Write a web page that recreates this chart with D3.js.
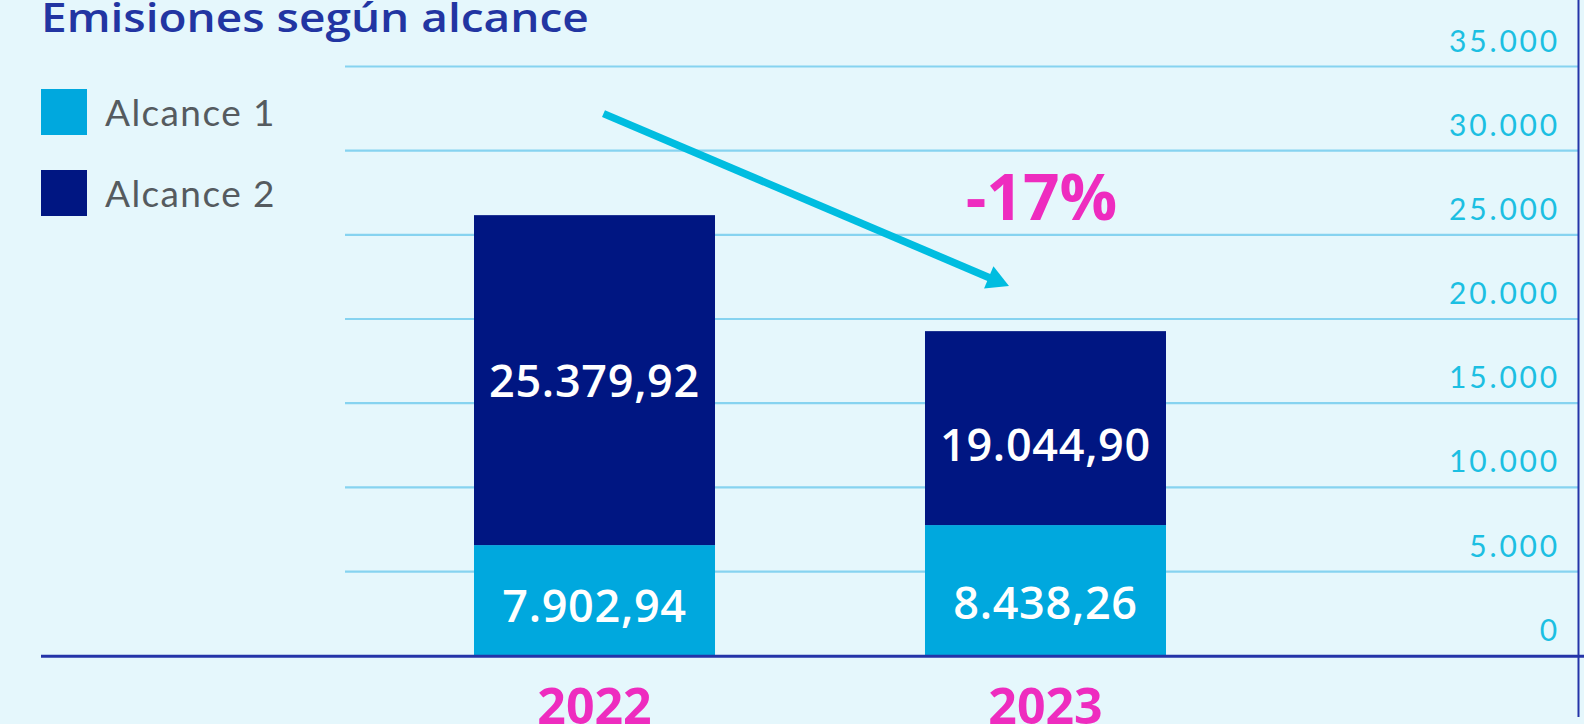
<!DOCTYPE html>
<html><head><meta charset="utf-8">
<script src="https://cdn.jsdelivr.net/npm/d3@7/dist/d3.min.js"></script>
<style>
html,body{margin:0;padding:0;background:#e5f7fc;overflow:hidden;}
svg{display:block;}
</style></head>
<body>
<svg id="c" width="1584" height="724"></svg>
<script>
// ---- data ----
const years = ["2022", "2023"];
const series = ["Alcance 1", "Alcance 2"];
// segment heights as drawn in the picture (t CO2e)
const alcance1 = [6570, 7760];
const alcance2 = [19600, 11520];
// value labels printed on the bars
const alcance1Labels = ["7.902,94", "8.438,26"];
const alcance2Labels = ["25.379,92", "19.044,90"];
const yTicks = [0, 5000, 10000, 15000, 20000, 25000, 30000, 35000];
const changeLabel = "-17%";
const title = "Emisiones según alcance";

const colors = {"Alcance 1": "#00a8de", "Alcance 2": "#001682"};

const W = 1584, H = 724;
const svg = d3.select("#c");
svg.append("rect").attr("width", W).attr("height", H).attr("fill", "#e5f7fc");

const y = d3.scaleLinear().domain([0, 35000]).range([655.7, 66.5]);
const x = d3.scaleBand().domain(years).range([474, 1166]).paddingInner(0.4656).paddingOuter(0);
const bw = x.bandwidth();

const fmt = v => d3.format(",")(v).replace(/,/g, ".");

// gridlines
svg.append("g").selectAll("line").data(yTicks.filter(d => d > 0)).join("line")
  .attr("x1", 345).attr("x2", 1578)
  .attr("y1", d => y(d)).attr("y2", d => y(d))
  .attr("stroke", "#86d3f0").attr("stroke-width", 2.2);

// y tick labels (right side)
svg.append("g").selectAll("text").data(yTicks).join("text")
  .attr("x", 1560).attr("y", d => y(d) - 15)
  .attr("text-anchor", "end")
  .attr("font-family", "Lato").attr("font-weight", 400)
  .attr("font-size", 30).attr("letter-spacing", 2.8)
  .attr("fill", "#1cbfe2")
  .text(d => fmt(d));

// stacked data
const rows = years.map((yr, i) => ({year: yr, "Alcance 1": alcance1[i], "Alcance 2": alcance2[i]}));
const stack = d3.stack().keys(series)(rows);

svg.append("g").selectAll("g").data(stack).join("g")
  .attr("fill", d => colors[d.key])
  .selectAll("rect").data(d => d).join("rect")
  .attr("x", d => x(d.data.year))
  .attr("width", bw)
  .attr("y", d => y(d[1]))
  .attr("height", d => y(d[0]) - y(d[1]));

// bar value labels
const labelSets = [alcance1Labels, alcance2Labels];
const dyAdj = [[5, 12], [1, 17]];
stack.forEach((s, si) => {
  svg.append("g").selectAll("text").data(s).join("text")
    .attr("x", (d, i) => x(d.data.year) + bw / 2)
    .attr("y", (d, i) => (y(d[0]) + y(d[1])) / 2 + dyAdj[si][i])
    .attr("dy", "0.36em")
    .attr("text-anchor", "middle")
    .attr("font-family", "Open Sans").attr("font-weight", 600)
    .attr("font-size", 45).attr("letter-spacing", 0.7)
    .attr("fill", "#ffffff")
    .text((d, i) => labelSets[si][i]);
});

// axis line (bottom) and right vertical line
svg.append("line").attr("x1", 41).attr("x2", 1584).attr("y1", y(0) + 0.5).attr("y2", y(0) + 0.5)
  .attr("stroke", "#2434a8").attr("stroke-width", 3);
svg.append("line").attr("x1", 1578.5).attr("x2", 1578.5).attr("y1", 0).attr("y2", 717)
  .attr("stroke", "#2434a8").attr("stroke-width", 2);

// year labels
svg.append("g").selectAll("text").data(years).join("text")
  .attr("x", d => x(d) + bw / 2)
  .attr("y", 724)
  .attr("text-anchor", "middle")
  .attr("font-family", "Open Sans").attr("font-weight", 700)
  .attr("font-size", 50)
  .attr("fill", "#ee2cbf")
  .text(d => d);

// title (stretched horizontally to the reference width)
const t = svg.append("text")
  .attr("font-family", "Open Sans").attr("font-weight", 600)
  .attr("font-size", 40).attr("fill", "#2235a2")
  .text(title);
const tl = t.node().getComputedTextLength();
t.attr("transform", `translate(41,31.5) scale(${548 / tl},1)`);

// legend
const lg = svg.append("g").selectAll("g").data(series).join("g")
  .attr("transform", (d, i) => `translate(41,${89 + i * 81})`);
lg.append("rect").attr("width", 46).attr("height", 46).attr("fill", d => colors[d]);
lg.append("text").attr("x", 64).attr("y", 36.5)
  .attr("font-family", "Lato").attr("font-weight", 400)
  .attr("font-size", 37).attr("letter-spacing", 1.4)
  .attr("fill", "#555b5f")
  .text(d => d);

// change annotation arrow (from above 2022 bar down to 2023 bar)
const x0 = x("2022") + bw / 2 + 9, y0 = y(32200);
const x1 = x("2023") + 84, y1 = y(21960);
const ang = Math.atan2(y1 - y0, x1 - x0);
const headL = 22, headW = 12;
const bx = x1 - headL * Math.cos(ang), by = y1 - headL * Math.sin(ang);
svg.append("line").attr("x1", x0).attr("y1", y0).attr("x2", bx + 2 * Math.cos(ang)).attr("y2", by + 2 * Math.sin(ang))
  .attr("stroke", "#00bde0").attr("stroke-width", 7.5);
const px = -Math.sin(ang), py = Math.cos(ang);
svg.append("path")
  .attr("d", `M${x1},${y1}L${bx + px * headW},${by + py * headW}L${bx - px * headW},${by - py * headW}Z`)
  .attr("fill", "#00bde0");

svg.append("text")
  .attr("x", x("2023") + bw / 2 - 4).attr("y", 220)
  .attr("text-anchor", "middle")
  .attr("font-family", "Open Sans").attr("font-weight", 700)
  .attr("font-size", 64).attr("fill", "#ee2cbf")
  .text(changeLabel);
</script>
</body></html>
